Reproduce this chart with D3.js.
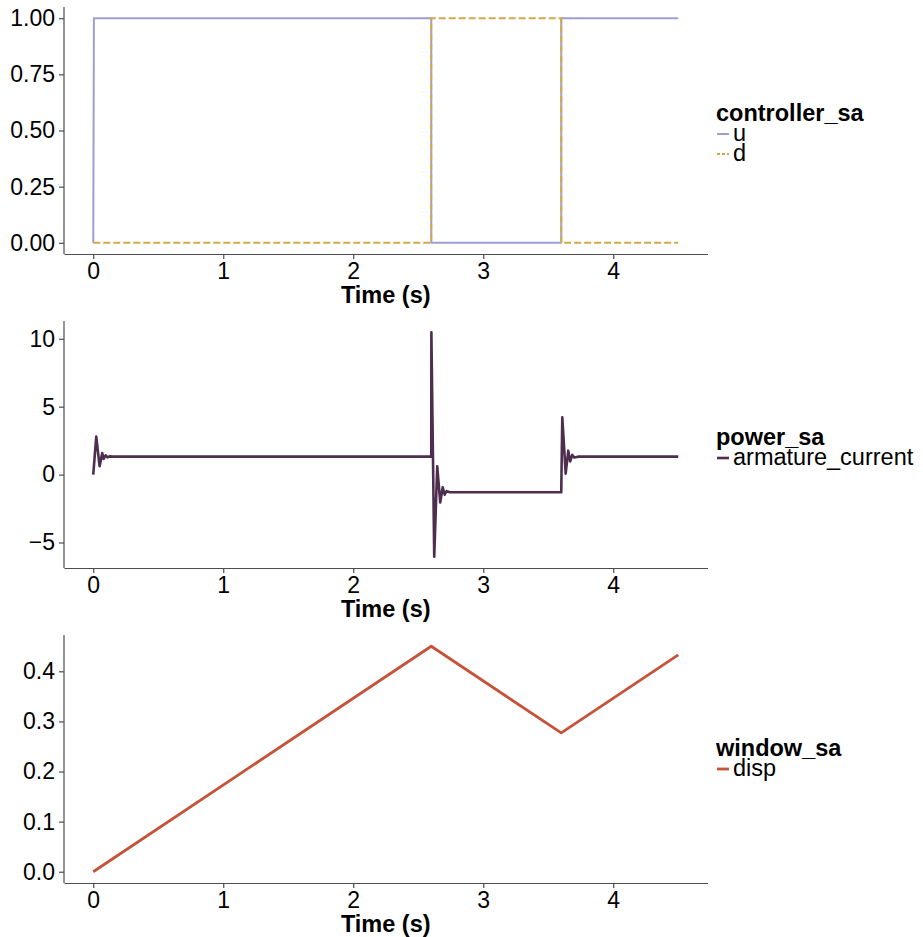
<!DOCTYPE html>
<html>
<head>
<meta charset="utf-8">
<script src="https://cdn.jsdelivr.net/npm/d3@7"></script>
<style>
  body { margin: 0; background: #fff; }
  svg text { font-family: "Liberation Sans", Arial, Helvetica, sans-serif; }
  .axis path, .axis line { stroke: #4d4d4d; stroke-width: 1.2; }
  .axis text { fill: #000; font-size: 23px; }
</style>
</head>
<body>
<div id="chart"></div>
<script>
  // controller_sa
  const ctrlTime = [0, 0.005, 2.6, 2.6, 3.6, 3.6, 4.5];
  const uValue   = [0, 1, 1, 0, 0, 1, 1];
  const dTime    = [0, 2.6, 2.6, 3.6, 3.6, 4.5];
  const dValue   = [0, 0, 1, 1, 0, 0];

  // power_sa
  const armTime  = [0, 0.023, 0.049, 0.069, 0.08, 0.095, 0.11, 0.125, 0.15, 0.2,
                    2.6, 2.601, 2.623, 2.646, 2.669, 2.688, 2.703, 2.718, 2.745,
                    3.6, 3.608, 3.634, 3.654, 3.669, 3.685, 3.7, 3.73, 4.5];
  const armValue = [0, 2.8, 0.61, 1.59, 1.15, 1.42, 1.26, 1.34, 1.32, 1.32,
                    1.32, 10.48, -6.05, 0.61, -2.05, -0.93, -1.48, -1.22, -1.3,
                    -1.3, 4.22, 0.07, 1.76, 0.97, 1.45, 1.25, 1.32, 1.32];

  // window_sa
  const dispTime  = [0, 2.6, 3.6, 4.5];
  const dispValue = [0, 0.45, 0.277, 0.433];

  const xTicks = [0, 1, 2, 3, 4];

  const width = 923, height = 937;
  const svg = d3.select('#chart').append('svg')
    .attr('width', width)
    .attr('height', height);

  const x = d3.scaleLinear()
    .domain([-0.225, 4.725])
    .range([64, 707.5]);

  const panels = [
    {
      top: 7, bottom: 254, domain: [-0.05, 1.05],
      yTicks: [0, 0.25, 0.5, 0.75, 1], fmt: d3.format('.2f'),
      title: 'controller_sa', legendY: 121,
      series: [
        { name: 'u', t: ctrlTime, v: uValue, color: '#9c9fd0', width: 2, dash: null },
        { name: 'd', t: dTime, v: dValue, color: '#d4a84a', width: 2, dash: '7,3' }
      ]
    },
    {
      top: 321, bottom: 568, domain: null,
      yTicks: [-5, 0, 5, 10], fmt: d3.format('d'),
      title: 'power_sa', legendY: 445,
      series: [
        { name: 'armature_current', t: armTime, v: armValue, color: '#4d2e4f', width: 2.6, dash: null }
      ]
    },
    {
      top: 635, bottom: 883, domain: null,
      yTicks: [0, 0.1, 0.2, 0.3, 0.4], fmt: d3.format('.1f'),
      title: 'window_sa', legendY: 756,
      series: [
        { name: 'disp', t: dispTime, v: dispValue, color: '#c5533a', width: 2.8, dash: null }
      ]
    }
  ];

  panels.forEach(p => {
    let domain = p.domain;
    if (!domain) {
      const all = p.series.flatMap(s => s.v);
      const [lo, hi] = d3.extent(all);
      const pad = (hi - lo) * 0.05;
      domain = [lo - pad, hi + pad];
    }
    const y = d3.scaleLinear().domain(domain).range([p.bottom, p.top]);

    const g = svg.append('g');

    const line = d3.line()
      .x(d => x(d[0]))
      .y(d => y(d[1]));

    p.series.forEach(s => {
      const pts = s.t.map((t, i) => [t, s.v[i]]);
      g.append('path')
        .datum(pts)
        .attr('fill', 'none')
        .attr('stroke', s.color)
        .attr('stroke-width', s.width)
        .attr('stroke-linejoin', 'round')
        .attr('stroke-dasharray', s.dash)
        .attr('d', line);
    });

    g.append('g')
      .attr('class', 'axis')
      .attr('transform', `translate(64,0)`)
      .call(d3.axisLeft(y).tickValues(p.yTicks).tickFormat(p.fmt)
        .tickSize(5).tickSizeOuter(0).tickPadding(4))
      .call(a => a.select('.domain').attr('d', `M0,${p.top}V${p.bottom}`));

    g.append('g')
      .attr('class', 'axis')
      .attr('transform', `translate(0,${p.bottom})`)
      .call(d3.axisBottom(x).tickValues(xTicks).tickFormat(d3.format('d'))
        .tickSize(5).tickSizeOuter(0).tickPadding(4));

    g.append('text')
      .attr('x', (64 + 707.5) / 2)
      .attr('y', p.bottom + 49)
      .attr('text-anchor', 'middle')
      .attr('font-size', 23.5)
      .attr('font-weight', 'bold')
      .text('Time (s)');

    // legend
    const lg = g.append('g').attr('transform', `translate(716,${p.legendY})`);
    lg.append('text')
      .attr('font-size', 23.5)
      .attr('font-weight', 'bold')
      .text(p.title);
    p.series.forEach((s, i) => {
      const yy = 20 + i * 20;
      lg.append('line')
        .attr('x1', 1).attr('x2', 13)
        .attr('y1', yy - 7).attr('y2', yy - 7)
        .attr('stroke', s.color)
        .attr('stroke-width', s.width)
        .attr('stroke-dasharray', s.dash ? '3,2' : null);
      lg.append('text')
        .attr('x', 17)
        .attr('y', yy)
        .attr('font-size', 23.5)
        .text(s.name);
    });
  });
</script>
</body>
</html>
